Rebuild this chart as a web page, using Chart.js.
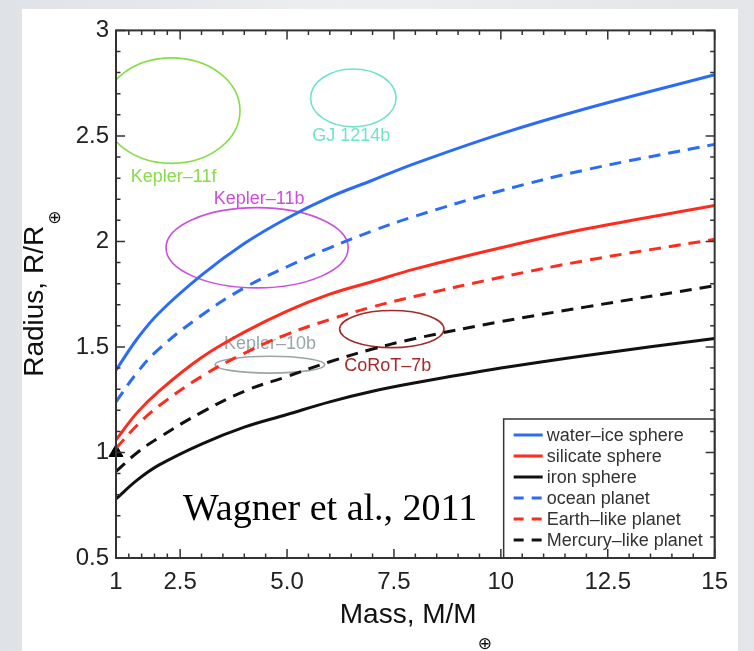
<!DOCTYPE html>
<html>
<head>
<meta charset="utf-8">
<title>Mass-radius relations</title>
<script src="https://cdn.jsdelivr.net/npm/chart.js@4.4.1/dist/chart.umd.min.js"></script>
<style>
  html, body { margin: 0; padding: 0; }
  body {
    width: 754px; height: 651px; overflow: hidden; position: relative;
    background: linear-gradient(90deg, #dfe2e7 0%, #eceef1 45%, #e3e5e9 100%);
  }
  #panel { position: absolute; left: 22px; top: 9px; width: 716px; height: 642px; background: #fff; }
</style>
</head>
<body>
<div id="panel"><canvas id="mrChart" width="716" height="642"></canvas></div>
<script>
// planet mass in Earth masses, radius in Earth radii
const massGrid    = [1, 1.5, 2, 3, 4, 5, 6, 7, 8, 10, 12, 15];
const waterIce    = [1.39, 1.54, 1.66, 1.84, 1.99, 2.11, 2.21, 2.29, 2.37, 2.51, 2.63, 2.79];
const silicate    = [1.06, 1.19, 1.29, 1.45, 1.57, 1.67, 1.75, 1.81, 1.87, 1.97, 2.06, 2.17];
const iron        = [0.78, 0.87, 0.94, 1.04, 1.12, 1.18, 1.24, 1.29, 1.33, 1.40, 1.46, 1.54];
const ocean       = [1.24, 1.38, 1.49, 1.65, 1.78, 1.88, 1.97, 2.05, 2.12, 2.24, 2.34, 2.46];
const earthLike   = [1.02, 1.13, 1.22, 1.36, 1.47, 1.56, 1.63, 1.69, 1.74, 1.83, 1.91, 2.01];
const mercuryLike = [0.91, 1.00, 1.07, 1.19, 1.29, 1.36, 1.43, 1.49, 1.54, 1.62, 1.69, 1.79];

// observed planets: centre and 1-sigma extent
const planetNames     = ['Kepler\u201311f', 'GJ 1214b', 'Kepler\u201311b', 'Kepler\u201310b', 'CoRoT\u20137b'];
const planetMass      = [2.3, 6.55, 4.3, 4.6, 7.45];
const planetMassErr   = [1.6, 1.0, 2.13, 1.28, 1.22];
const planetRadius    = [2.62, 2.68, 1.97, 1.416, 1.585];
const planetRadiusErr = [0.25, 0.137, 0.19, 0.04, 0.088];

// Earth itself
const earthMass = [1];
const earthRadius = [1];

const xTickValues = [1, 2.5, 5, 7.5, 10, 12.5, 15];
const xTickLabels = ['1', '2.5', '5.0', '7.5', '10', '12.5', '15'];
const yTickValues = [0.5, 1, 1.5, 2, 2.5, 3];
const yTickLabels = ['0.5', '1', '1.5', '2', '2.5', '3'];

const SANS = '"Liberation Sans", Arial, Helvetica, "DejaVu Sans", sans-serif';
const BLUE = '#2b6cf6';
const RED = '#ff2b1c';
const BLACK = '#111111';

// colour and where the name goes for each planet
const planetStyles = [
    { color: '#86dd47', labelSide: 'below', dx: 2, dy: 14 },
    { color: '#72e2cf', labelSide: 'below', dx: -2, dy: 9 },
    { color: '#c94fdc', labelSide: 'above', dx: 2, dy: -9 },
    { color: '#9aa6a6', labelSide: 'above', dx: 0, dy: -12 },
    { color: '#a52a2a', labelSide: 'below', dx: -4, dy: 18 }
];

function toPoints(ys) {
    return massGrid.map((m, i) => ({ x: m, y: ys[i] }));
}

function curve(label, ys, color, dashed) {
    return {
        label: label,
        data: toPoints(ys),
        borderColor: color,
        backgroundColor: color,
        borderWidth: 3,
        borderDash: dashed ? [12, 8] : [],
        showLine: true,
        pointRadius: 0,
        tension: 0.4,
        inLegend: true
    };
}

const planetPlugin = {
    id: 'planets',
    beforeDatasetsDraw(chart) {
        const { ctx, chartArea, scales: { x, y } } = chart;
        ctx.save();
        ctx.beginPath();
        ctx.rect(chartArea.left, chartArea.top, chartArea.right - chartArea.left, chartArea.bottom - chartArea.top);
        ctx.clip();
        planetNames.forEach((name, i) => {
            const st = planetStyles[i];
            const cx = x.getPixelForValue(planetMass[i]);
            const cy = y.getPixelForValue(planetRadius[i]);
            const rx = Math.abs(x.getPixelForValue(planetMass[i] + planetMassErr[i]) - cx);
            const ry = Math.abs(y.getPixelForValue(planetRadius[i] + planetRadiusErr[i]) - cy);
            ctx.beginPath();
            ctx.ellipse(cx, cy, rx, ry, 0, 0, Math.PI * 2);
            ctx.strokeStyle = st.color;
            ctx.lineWidth = 1.6;
            ctx.stroke();

            ctx.fillStyle = st.color;
            ctx.font = '18px ' + SANS;
            ctx.textAlign = 'center';
            ctx.textBaseline = 'middle';
            const ly = st.labelSide === 'below' ? cy + ry + st.dy : cy - ry + st.dy;
            ctx.fillText(name, cx + st.dx, ly);
        });
        ctx.restore();
    }
};

const legendPlugin = {
    id: 'boxLegend',
    afterDatasetsDraw(chart) {
        const { ctx, chartArea } = chart;
        ctx.save();

        // citation
        ctx.fillStyle = '#000';
        ctx.font = '38px "Liberation Serif", "DejaVu Serif", serif';
        ctx.textAlign = 'left';
        ctx.textBaseline = 'alphabetic';
        ctx.fillText('Wagner et al., 2011', chartArea.left + 67, chartArea.bottom - 38);

        const left = chartArea.right - 211;
        const top = chartArea.bottom - 139;
        ctx.fillStyle = '#fff';
        ctx.fillRect(left, top, chartArea.right - left, chartArea.bottom - top);
        ctx.strokeStyle = '#333';
        ctx.lineWidth = 1.5;
        ctx.strokeRect(left, top, chartArea.right - left, chartArea.bottom - top);

        const entries = chart.data.datasets.filter(d => d.inLegend);
        ctx.font = '18px ' + SANS;
        ctx.textBaseline = 'middle';
        entries.forEach((d, i) => {
            const rowY = top + 16 + i * 21;
            ctx.beginPath();
            ctx.strokeStyle = d.borderColor;
            ctx.lineWidth = 3;
            ctx.setLineDash(d.borderDash.length ? [10, 8] : []);
            ctx.moveTo(left + 10, rowY);
            ctx.lineTo(left + 39, rowY);
            ctx.stroke();
            ctx.setLineDash([]);
            ctx.fillStyle = '#333';
            ctx.fillText(d.label, left + 43, rowY + 1);
        });
        ctx.restore();
    }
};

// IDL-style box: inward ticks on all four sides plus axis titles
const framePlugin = {
    id: 'frame',
    afterDraw(chart) {
        const { ctx, chartArea: a, scales: { x, y } } = chart;
        ctx.save();
        ctx.strokeStyle = '#333';
        ctx.lineWidth = 2;
        ctx.strokeRect(a.left, a.top, a.right - a.left, a.bottom - a.top);

        ctx.lineWidth = 1.5;
        const xMinor = [1.3, 1.6, 1.9, 2.2];
        for (let v = 3; v < 15; v += 0.5) {
            if (!xTickValues.includes(v)) xMinor.push(v);
        }
        const yMinor = [];
        for (let k = 6; k < 30; k++) {
            if (k % 5 !== 0) yMinor.push(k / 10);
        }
        ctx.beginPath();
        xTickValues.concat(xMinor).forEach(v => {
            const len = xTickValues.includes(v) ? 9 : 4.5;
            const px = x.getPixelForValue(v);
            ctx.moveTo(px, a.bottom); ctx.lineTo(px, a.bottom - len);
            ctx.moveTo(px, a.top); ctx.lineTo(px, a.top + len);
        });
        yTickValues.concat(yMinor).forEach(v => {
            const len = yTickValues.includes(v) ? 9 : 4.5;
            const py = y.getPixelForValue(v);
            ctx.moveTo(a.left, py); ctx.lineTo(a.left + len, py);
            ctx.moveTo(a.right, py); ctx.lineTo(a.right - len, py);
        });
        ctx.stroke();

        // axis titles with the Earth symbol as subscript
        ctx.fillStyle = '#111';
        ctx.textBaseline = 'alphabetic';
        ctx.textAlign = 'left';
        const main = '28px ' + SANS;
        const sub = '17px "DejaVu Sans", ' + SANS;

        ctx.font = main;
        const xt = 'Mass, M/M';
        const w1 = ctx.measureText(xt).width;
        ctx.font = sub;
        const w2 = ctx.measureText('\u2295').width;
        let sx = (a.left + a.right) / 2 - (w1 + w2) / 2;
        const by = a.bottom + 65;
        ctx.font = main;
        ctx.fillText(xt, sx, by);
        ctx.font = sub;
        ctx.fillText('\u2295', sx + w1 + 1, by + 26);

        ctx.translate(a.left - 73, (a.top + a.bottom) / 2);
        ctx.rotate(-Math.PI / 2);
        ctx.font = main;
        const yt = 'Radius, R/R';
        const w3 = ctx.measureText(yt).width;
        sx = -(w3 + w2) / 2;
        ctx.fillText(yt, sx, 0);
        ctx.font = sub;
        ctx.fillText('\u2295', sx + w3 + 1, 17);
        ctx.restore();
    }
};

const ctx = document.getElementById('mrChart').getContext('2d');

new Chart(ctx, {
    type: 'scatter',
    data: {
        datasets: [
            curve('water\u2013ice sphere', waterIce, BLUE, false),
            curve('silicate sphere', silicate, RED, false),
            curve('iron sphere', iron, BLACK, false),
            curve('ocean planet', ocean, BLUE, true),
            curve('Earth\u2013like planet', earthLike, RED, true),
            curve('Mercury\u2013like planet', mercuryLike, BLACK, true),
            {
                label: 'Earth',
                data: earthMass.map((m, i) => ({ x: m, y: earthRadius[i] })),
                pointStyle: 'triangle',
                pointRadius: 8,
                backgroundColor: '#000',
                borderColor: '#000',
                borderWidth: 1,
                clip: false,
                inLegend: false
            }
        ]
    },
    options: {
        responsive: false,
        animation: false,
        events: [],
        layout: { padding: { top: 9, right: 14, left: 0, bottom: 0 } },
        plugins: {
            legend: { display: false },
            tooltip: { enabled: false }
        },
        scales: {
            x: {
                type: 'linear',
                min: 1,
                max: 15,
                grid: { display: false, drawTicks: false },
                border: { display: false },
                afterBuildTicks: function (scale) {
                    scale.ticks = xTickValues.map(v => ({ value: v }));
                },
                afterFit: function (scale) {
                    scale.height = 93;
                },
                ticks: {
                    padding: 10,
                    autoSkip: false,
                    maxRotation: 0,
                    color: '#222',
                    font: { family: SANS, size: 24 },
                    callback: function (value, index) {
                        return xTickLabels[index];
                    }
                }
            },
            y: {
                type: 'linear',
                min: 0.5,
                max: 3,
                grid: { display: false, drawTicks: false },
                border: { display: false },
                afterBuildTicks: function (scale) {
                    scale.ticks = yTickValues.map(v => ({ value: v }));
                },
                afterFit: function (scale) {
                    scale.width = 94;
                },
                ticks: {
                    padding: 7,
                    color: '#222',
                    font: { family: SANS, size: 24 },
                    callback: function (value, index) {
                        return yTickLabels[index];
                    }
                }
            }
        }
    },
    plugins: [planetPlugin, legendPlugin, framePlugin]
});
</script>
</body>
</html>
